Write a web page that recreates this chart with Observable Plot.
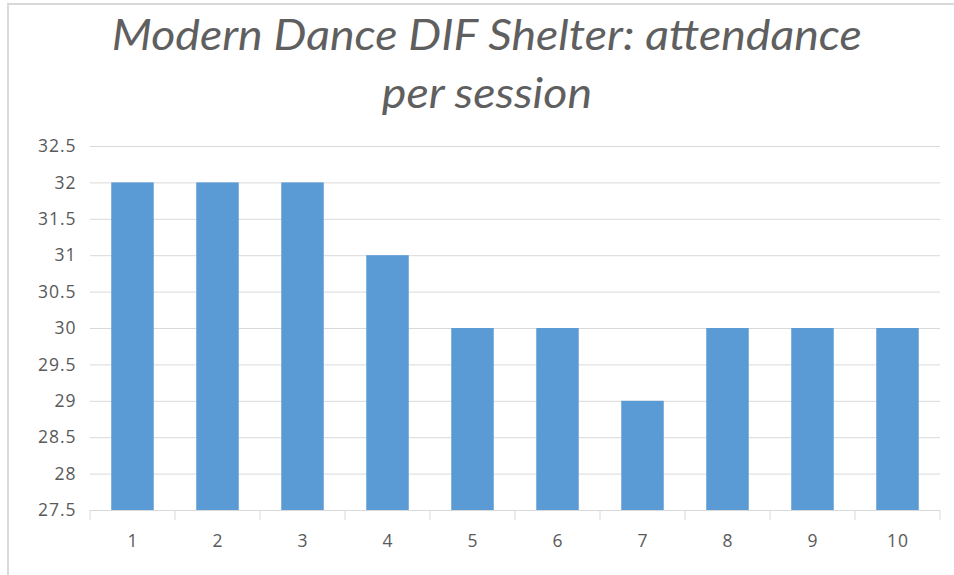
<!DOCTYPE html>
<html>
<head>
<meta charset="utf-8">
<script src="https://cdn.jsdelivr.net/npm/d3@7"></script>
<script src="https://cdn.jsdelivr.net/npm/@observablehq/plot@0.6"></script>
<style>
  html, body { margin: 0; padding: 0; background: #fff; }
  body { width: 954px; height: 575px; position: relative; overflow: hidden; }
  #frame { position: absolute; left: 7px; top: 3px; width: 947px; height: 572px;
           border-left: 2px solid #d9d9d9; border-top: 2px solid #d9d9d9; box-sizing: border-box; }
  #title { position: absolute; left: 0; top: 5px; width: 974px; text-align: center;
           font-family: Lato, "Open Sans", sans-serif; font-style: italic; font-weight: 400;
           font-size: 42px; line-height: 58px; color: #5f5f5f; }
  #title span { display: inline-block; transform-origin: center; }
  #chart { position: absolute; left: 0; top: 120px; }
</style>
</head>
<body>
<div id="frame"></div>
<div id="title"><span id="t1">Modern Dance DIF Shelter: attendance</span><br><span id="t2">per session</span></div>
<div id="chart"></div>
<script>
const sessions = ["1", "2", "3", "4", "5", "6", "7", "8", "9", "10"];
const attendance = [32, 32, 32, 31, 30, 30, 29, 30, 30, 30];
const yTicks = [27.5, 28, 28.5, 29, 29.5, 30, 30.5, 31, 31.5, 32, 32.5];
const yDomain = [27.5, 32.5];

const data = sessions.map((s, i) => ({session: s, value: attendance[i]}));

const plot = Plot.plot({
  width: 954,
  height: 455,
  marginTop: 26,
  marginBottom: 65,
  marginLeft: 90,
  marginRight: 14,
  style: {fontFamily: "'Open Sans', Lato, sans-serif", fontSize: "17.5px", letterSpacing: "1px", color: "#595959", background: "transparent"},
  x: {domain: sessions, paddingInner: 0.5, paddingOuter: 0.25, round: false, label: null, tickSize: 0, tickPadding: 24},
  y: {domain: yDomain, ticks: yTicks, label: null, tickSize: 0, tickPadding: 14, tickFormat: d => String(d)},
  marks: [
    Plot.gridY(yTicks, {stroke: "#d9d9d9", strokeOpacity: 1, strokeWidth: 1}),
    Plot.barY(data, {x: "session", y: "value", fill: "#5b9bd5", clip: true}),
    Plot.ruleY([yDomain[0]], {stroke: "#d9d9d9", strokeWidth: 1})
  ]
});

// category boundary tick marks below the axis, computed from the band scale
const xs = plot.scale("x");
const ys = plot.scale("y");
const gap = xs.step - xs.bandwidth;
const bounds = sessions.map(s => xs.apply(s) - gap / 2);
bounds.push(xs.apply(sessions[sessions.length - 1]) + xs.bandwidth + gap / 2);
const y0 = ys.apply(yDomain[0]);
d3.select(plot).append("g")
  .attr("stroke", "#d9d9d9")
  .selectAll("line").data(bounds).join("line")
  .attr("x1", d => d).attr("x2", d => d)
  .attr("y1", y0).attr("y2", y0 + 10);

document.getElementById("chart").appendChild(plot);

// fit title width (original font is a condensed light italic)
const t1 = document.getElementById("t1"), t2 = document.getElementById("t2");
const k = 750 / t1.getBoundingClientRect().width;
t1.style.transform = `scaleX(${k})`;
t2.style.transform = `scaleX(${k})`;
</script>
</body>
</html>
